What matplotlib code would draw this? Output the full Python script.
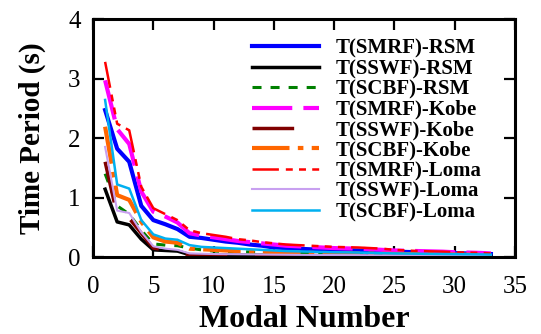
import numpy as np
import matplotlib
matplotlib.use("Agg")
import matplotlib.pyplot as plt

plt.rcParams['font.family'] = ['Liberation Serif', 'DejaVu Serif']
plt.rcParams['lines.scale_dashes'] = False

# modal periods (s) for each frame type / record
modes = np.arange(1, 34)

smrf_rsm = [2.47, 1.82, 1.60, 0.86, 0.62, 0.55, 0.47, 0.34, 0.32, 0.29, 0.26, 0.24, 0.21,
            0.19, 0.16, 0.15, 0.14, 0.13, 0.125, 0.12, 0.115, 0.11, 0.10, 0.095, 0.09,
            0.085, 0.08, 0.075, 0.07, 0.065, 0.06, 0.055, 0.05]
sswf_rsm = [1.14, 0.59, 0.54, 0.30, 0.12, 0.11, 0.10, 0.04, 0.037, 0.035, 0.033, 0.031,
            0.03, 0.029, 0.028, 0.027, 0.026, 0.025, 0.024, 0.023, 0.022, 0.021, 0.02,
            0.02, 0.019, 0.018, 0.018, 0.017, 0.016, 0.016, 0.015, 0.015, 0.014]
scbf_rsm = [1.40, 0.86, 0.72, 0.45, 0.22, 0.20, 0.19, 0.15, 0.12, 0.10, 0.095, 0.09, 0.085,
            0.08, 0.075, 0.07, 0.066, 0.063, 0.06, 0.057, 0.054, 0.052, 0.05, 0.047,
            0.045, 0.043, 0.041, 0.04, 0.038, 0.036, 0.034, 0.032, 0.03]
smrf_kobe = [2.97, 2.15, 1.90, 1.10, 0.76, 0.68, 0.58, 0.40, 0.36, 0.33, 0.30, 0.27, 0.25,
             0.23, 0.21, 0.19, 0.18, 0.17, 0.16, 0.15, 0.145, 0.14, 0.13, 0.12, 0.11,
             0.105, 0.10, 0.095, 0.09, 0.08, 0.075, 0.07, 0.06]
sswf_kobe = [1.60, 0.70, 0.65, 0.40, 0.15, 0.12, 0.11, 0.03, 0.028, 0.027, 0.026, 0.025,
             0.024, 0.023, 0.022, 0.021, 0.02, 0.02, 0.019, 0.018, 0.018, 0.017, 0.016,
             0.016, 0.015, 0.015, 0.014, 0.014, 0.013, 0.013, 0.012, 0.012, 0.011]
scbf_kobe = [2.19, 1.04, 0.96, 0.59, 0.33, 0.26, 0.24, 0.14, 0.13, 0.12, 0.11, 0.10, 0.095,
             0.09, 0.085, 0.08, 0.075, 0.07, 0.068, 0.065, 0.062, 0.06, 0.057, 0.055,
             0.052, 0.05, 0.048, 0.046, 0.044, 0.042, 0.04, 0.038, 0.035]
smrf_loma = [3.28, 2.24, 2.13, 1.18, 0.82, 0.72, 0.62, 0.45, 0.40, 0.37, 0.34, 0.30, 0.28,
             0.25, 0.23, 0.21, 0.20, 0.19, 0.18, 0.17, 0.165, 0.16, 0.15, 0.14, 0.12,
             0.11, 0.10, 0.095, 0.09, 0.08, 0.075, 0.07, 0.06]
sswf_loma = [1.85, 0.78, 0.74, 0.42, 0.18, 0.14, 0.12, 0.06, 0.055, 0.05, 0.048, 0.046,
             0.044, 0.042, 0.04, 0.038, 0.036, 0.035, 0.034, 0.033, 0.032, 0.031, 0.03,
             0.029, 0.028, 0.027, 0.026, 0.025, 0.024, 0.023, 0.022, 0.021, 0.02]
scbf_loma = [2.64, 1.22, 1.15, 0.62, 0.38, 0.31, 0.29, 0.20, 0.17, 0.16, 0.15, 0.14, 0.13,
             0.12, 0.11, 0.10, 0.095, 0.09, 0.085, 0.08, 0.078, 0.075, 0.07, 0.065, 0.06,
             0.058, 0.055, 0.052, 0.05, 0.048, 0.046, 0.044, 0.04]

labels = ['T(SMRF)-RSM', 'T(SSWF)-RSM', 'T(SCBF)-RSM',
          'T(SMRF)-Kobe', 'T(SSWF)-Kobe', 'T(SCBF)-Kobe',
          'T(SMRF)-Loma', 'T(SSWF)-Loma', 'T(SCBF)-Loma']
series = [smrf_rsm, sswf_rsm, scbf_rsm, smrf_kobe, sswf_kobe, scbf_kobe,
          smrf_loma, sswf_loma, scbf_loma]

# (color, linewidth, dash pattern in points or None for solid)
styles = [
    ('#0000FF', 3.0, None),
    ('#000000', 2.5, None),
    ('#008000', 2.2, (6.5, 6.5)),
    ('#FF00FF', 3.0, (29, 8)),
    ('#800000', 2.5, (30, 20)),
    ('#FF6600', 3.0, (27, 6, 4, 6)),
    ('#FF0000', 1.8, (19, 5, 5, 4.5, 5, 4.5, 5, 4.5)),
    ('#C8A0F0', 1.5, None),
    ('#00B0F0', 1.8, None),
]

fig = plt.figure(figsize=(5.41, 3.34), dpi=100)
ax = fig.add_axes([0.172, 0.2305, 0.780, 0.7125])

for vals, lab, (c, lw, dash) in zip(series, labels, styles):
    line, = ax.plot(modes, vals, color=c, lw=lw, label=lab)
    if dash is not None:
        line.set_dashes(dash)

ax.set_xlim(0, 35)
ax.set_ylim(0, 4)
ax.set_xticks(np.arange(0, 36, 5))
ax.set_yticks(np.arange(0, 5, 1))

for sp in ax.spines.values():
    sp.set_linewidth(2.2)
ax.tick_params(direction='in', length=8, width=1.6, top=True, right=True,
               labelsize=18)
ax.tick_params(axis='x', pad=14)
ax.tick_params(axis='y', pad=9)

ax.set_xlabel('Modal Number', fontsize=23, fontweight='bold', labelpad=5)
ax.set_ylabel('Time Period (s)', fontsize=21, fontweight='bold', labelpad=16)

ax.legend(loc='upper right', bbox_to_anchor=(0.95, 0.97), frameon=False,
          prop={'weight': 'bold', 'size': 15}, handlelength=3.2,
          labelspacing=0.02, handletextpad=0.8, borderaxespad=0.2)

fig.savefig('out.png', dpi=100)
